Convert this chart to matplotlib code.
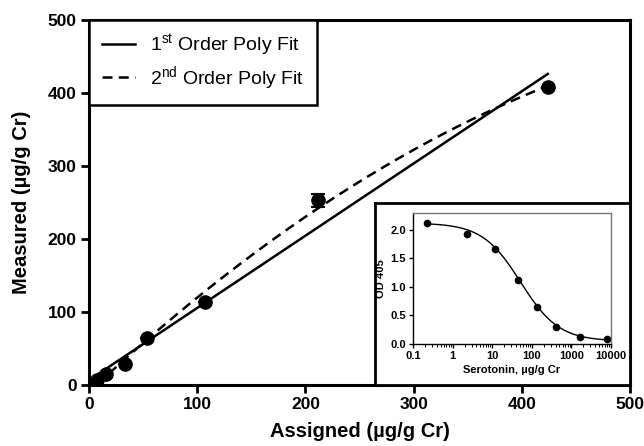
import numpy as np
import matplotlib
matplotlib.use('Agg')
import matplotlib.pyplot as plt
from matplotlib.ticker import LogLocator, NullFormatter, FixedLocator

plt.rcParams['font.family'] = ['Liberation Sans', 'DejaVu Sans']
plt.rcParams['mathtext.fontset'] = 'custom'
plt.rcParams['mathtext.rm'] = 'Liberation Sans'
plt.rcParams['mathtext.it'] = 'Liberation Sans'

# main plot: measured vs assigned serotonin
assigned = [7.4, 15.7, 33, 53.6, 107, 212, 424]
measured = [6.8, 15, 29, 64, 114, 253, 408]
measured_err = [0, 0, 0, 0, 0, 9, 0]

# inset: standard curve
std_conc = [0.23, 2.3, 11.5, 45, 135, 408, 1620, 7950]
std_od = [2.12, 1.92, 1.66, 1.12, 0.64, 0.30, 0.12, 0.08]
# 4PL fit parameters: top, bottom, ec50, hill
fit_top, fit_bottom, fit_ec50, fit_hill = 2.12, 0.05, 52, 0.9

fig = plt.figure(figsize=(6.44, 4.46), dpi=100)
ax = fig.add_axes([0.1382, 0.1368, 0.8401, 0.8184])

xs = np.linspace(min(assigned), max(assigned), 200)
p1 = np.polyfit(assigned, measured, 1)
p2 = np.polyfit(assigned, measured, 2)
ax.plot(xs, np.polyval(p1, xs), color='black', lw=1.8, label=r'1$^{\rm st}$ Order Poly Fit')
ax.plot(xs, np.polyval(p2, xs), color='black', lw=1.8, ls=(0, (4, 2.5)),
        label=r'2$^{\rm nd}$ Order Poly Fit')
ax.errorbar(assigned, measured, yerr=measured_err, fmt='o', color='black',
            ms=9.5, capsize=5, elinewidth=1.5, capthick=1.5, zorder=5)

ax.set_xlim(0, 500)
ax.set_ylim(0, 500)
ax.set_xticks([0, 100, 200, 300, 400, 500])
ax.set_yticks([0, 100, 200, 300, 400, 500])
for s in ax.spines.values():
    s.set_linewidth(2.2)
ax.tick_params(width=2, length=6, labelsize=12.5, pad=3)
for lab in ax.get_xticklabels() + ax.get_yticklabels():
    lab.set_fontweight('bold')
ax.set_xlabel('Assigned (µg/g Cr)', fontsize=14.5, fontweight='bold', labelpad=7)
ax.set_ylabel('Measured (µg/g Cr)', fontsize=14.5, fontweight='bold', labelpad=12)

leg = ax.legend(loc='upper left', borderaxespad=0, fancybox=False, fontsize=14,
                handlelength=1.7, handletextpad=0.8, labelspacing=0.3,
                borderpad=0.65, framealpha=1)
leg.get_frame().set_edgecolor('black')
leg.get_frame().set_linewidth(1.8)

# inset frame
frame = fig.add_axes([0.5823, 0.1368, 0.396, 0.408])
frame.set_xticks([])
frame.set_yticks([])
for s in frame.spines.values():
    s.set_linewidth(2)
frame.set_zorder(10)

ins = fig.add_axes([0.6413, 0.2287, 0.3075, 0.2944])
ins.set_zorder(11)
cx = np.logspace(np.log10(min(std_conc)), np.log10(max(std_conc)), 200)
cy = fit_bottom + (fit_top - fit_bottom) / (1 + (cx / fit_ec50) ** fit_hill)
ins.plot(cx, cy, color='black', lw=1)
ins.plot(std_conc, std_od, 'o', color='black', ms=4.5)
ins.set_xscale('log')
ins.set_xlim(0.1, 10000)
ins.set_ylim(0, 2.3)
ins.set_yticks([0.0, 0.5, 1.0, 1.5, 2.0])
ins.set_yticklabels(['0.0', '0.5', '1.0', '1.5', '2.0'])
ins.xaxis.set_major_locator(FixedLocator([0.1, 1, 10, 100, 1000, 10000]))
ins.set_xticklabels(['0.1', '1', '10', '100', '1000', '10000'])
ins.xaxis.set_minor_locator(LogLocator(base=10, subs=np.arange(2, 10), numticks=20))
ins.xaxis.set_minor_formatter(NullFormatter())
ins.tick_params(which='major', labelsize=8, width=1, length=3, pad=2)
ins.tick_params(which='minor', width=0.7, length=2)
for lab in ins.get_xticklabels() + ins.get_yticklabels():
    lab.set_fontweight('bold')
ins.spines['top'].set_color('#777777')
ins.spines['right'].set_color('#777777')
for s in ins.spines.values():
    s.set_linewidth(1)
ins.set_xlabel('Serotonin, µg/g Cr', fontsize=8, fontweight='bold', labelpad=3)
ins.set_ylabel('OD 405', fontsize=8, fontweight='bold', labelpad=3)

fig.savefig('out.png', dpi=100)
